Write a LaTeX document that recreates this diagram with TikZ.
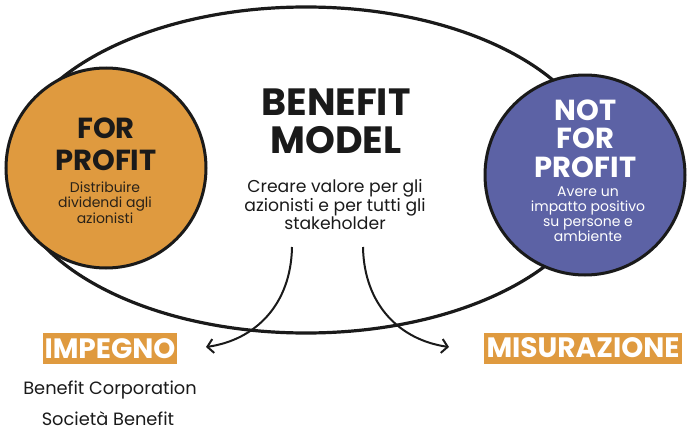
\documentclass[tikz,border=0pt]{standalone}
\usepackage{fontspec}
\setmainfont{Poppins}
\usetikzlibrary{arrows.meta}
\definecolor{orangeC}{HTML}{DF9A3F}
\definecolor{blueC}{HTML}{5C62A5}
\definecolor{ink}{HTML}{1A1A1A}
\definecolor{subink}{HTML}{2A2218}
\tikzset{
  bubble/.style={circle, draw=ink, line width=3pt, minimum size=200pt, inner sep=0pt},
  bigtitle/.style={anchor=base, inner sep=0pt, text=ink, font=\fontsize{38}{38}\selectfont\bfseries},
  ctitle/.style={anchor=base, inner sep=0pt, font=\fontsize{29}{29}\selectfont\bfseries},
  csub/.style={anchor=base, inner sep=0pt, font=\fontsize{14}{14}\selectfont},
  midtext/.style={anchor=base, inner sep=0pt, text=ink, font=\fontsize{17.2}{17.2}\selectfont},
  tagbox/.style={fill=orangeC, text=white, inner sep=0pt, minimum height=31pt, font=\fontsize{28}{28}\selectfont\bfseries},
  listtext/.style={anchor=base, inner sep=0pt, text=ink, font=\fontsize{17.8}{17.8}\selectfont},
  flowarrow/.style={draw=ink, line width=2pt, -{Straight Barb[length=6pt,width=14pt,line width=2pt]}},
}
\begin{document}
\begin{tikzpicture}[x=1pt,y=-1pt]
\useasboundingbox (0,0) rectangle (689,431);
% big ellipse
\draw[ink, line width=3.2pt] (306,170) ellipse [x radius=296, y radius=163];
% circles
\node[bubble, fill=orangeC] (forp) at (106,168) {};
\node[bubble, fill=blueC] (notp) at (585,175) {};
% BENEFIT MODEL
\node[bigtitle] (bm1) at (336,115) {BENEFIT};
\node[bigtitle] (bm2) at (336,153) {MODEL};
\node[midtext] (m1) at (335,192) {Creare valore per gli};
\node[midtext] (m2) at (335,211) {azionisti e per tutti gli};
\node[midtext] (m3) at (335,229.5) {stakeholder};
% FOR PROFIT
\node[ctitle, text=ink] (fp1) at (106,138) {FOR};
\node[ctitle, text=ink] (fp2) at (106,170) {PROFIT};
\node[csub, text=subink] (fs1) at (105,192) {Distribuire};
\node[csub, text=subink] (fs2) at (105,207.5) {dividendi agli};
\node[csub, text=subink] (fs3) at (105,223) {azionisti};
% NOT FOR PROFIT
\node[ctitle, text=white] (np1) at (585.5,120) {NOT};
\node[ctitle, text=white] (np2) at (585.5,148.5) {FOR};
\node[ctitle, text=white] (np3) at (585.5,177) {PROFIT};
\node[csub, text=white] (ns1) at (588,196) {Avere un};
\node[csub, text=white] (ns2) at (588,211) {impatto positivo};
\node[csub, text=white] (ns3) at (588,226) {su persone e};
\node[csub, text=white] (ns4) at (588,241) {ambiente};
% tags
\node[tagbox, minimum width=134pt] (imp) at (110,348.5) {IMPEGNO};
\node[tagbox, minimum width=198pt] (mis) at (583,348) {MISURAZIONE};
\node[listtext] (l1) at (110,394) {Benefit Corporation};
\node[listtext] (l2) at (108,425) {Società Benefit};
% arrows
\coordinate (a1s) at (292,247);
\coordinate (a1e) at (206,347);
\coordinate (a2s) at (363,247);
\coordinate (a2e) at (449,347);
\draw[flowarrow] (a1s) .. controls (291,305) and (255,340) .. (a1e);
\draw[flowarrow] (a2s) .. controls (364,305) and (400,340) .. (a2e);
\end{tikzpicture}
\end{document}
